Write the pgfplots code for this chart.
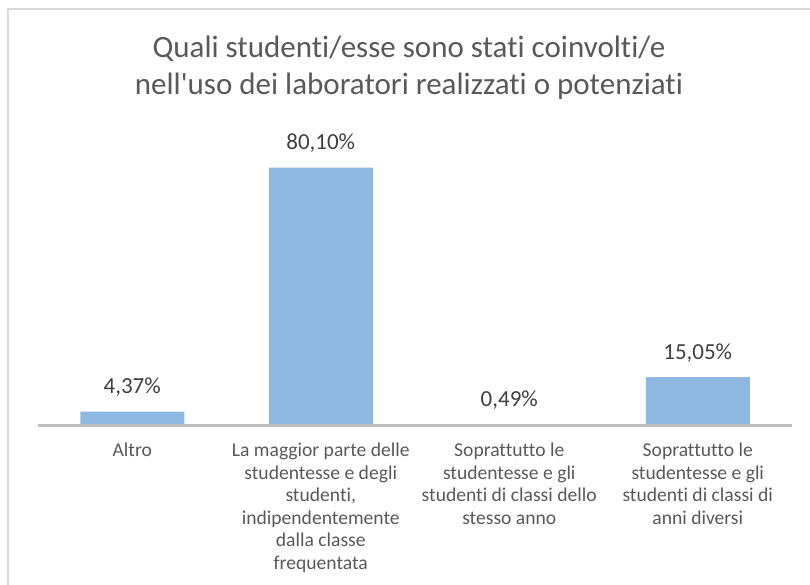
\documentclass[border=0pt]{standalone}
\usepackage{pgfplots}
\pgfplotsset{compat=1.18}
\usepackage{pgfplotstable}
\usepackage{fontspec}
\setmainfont{Carlito}[Ligatures={NoCommon}]
\definecolor{barblue}{RGB}{142,184,225}
\definecolor{axisgray}{RGB}{191,191,191}
\definecolor{framegray}{RGB}{217,217,217}
\definecolor{txt}{RGB}{89,89,89}
\definecolor{valtxt}{RGB}{64,64,64}
\pgfplotstableread{
x y lab
0 4.37 {4,37\%}
1 80.10 {80,10\%}
2 0.49 {0,49\%}
3 15.05 {15,05\%}
}\datatable
\begin{document}
\begin{tikzpicture}
\useasboundingbox (0pt,0pt) rectangle (810pt,584pt);
\draw[framegray, line width=1.5pt] (8pt,-5pt) -- (8pt,575pt) -- (815pt,575pt);
\node[font=\fontsize{31}{37}\selectfont, text=txt, align=center, anchor=base] at (409pt,489pt)
  {Quali studenti/esse sono stati coinvolti/e\\nell\textquotesingle uso dei laboratori realizzati o potenziati};
\begin{axis}[
  at={(38pt,158.4pt)}, anchor=south west,
  scale only axis, width=754pt, height=322pt,
  xmin=-0.5, xmax=3.5, ymin=0, ymax=100,
  axis x line*=bottom, axis y line=none,
  axis on top,
  x axis line style={draw=axisgray, line width=2.6pt, -},
  ytick=\empty,
  xtick={0,1,2,3}, major tick length=0pt,
  xticklabels={Altro,
    {La maggior parte delle\\studentesse e degli\\studenti{,}\\indipendentemente\\dalla classe\\frequentata},
    {Soprattutto le\\studentesse e gli\\studenti di classi dello\\stesso anno},
    {Soprattutto le\\studentesse e gli\\studenti di classi di\\anni diversi}},
  xticklabel style={align=center, font=\fontsize{19.6}{22.5}\selectfont, text=txt, anchor=north, yshift=-14pt},
  clip=false,
]
\addplot[ybar, bar width=104pt, fill=barblue, draw=none,
  nodes near coords, point meta=explicit symbolic,
  nodes near coords style={anchor=base, yshift=18pt, font=\fontsize{23}{27}\selectfont, text=valtxt}]
  table[x=x, y=y, meta=lab] {\datatable};
\end{axis}
\end{tikzpicture}
\end{document}
